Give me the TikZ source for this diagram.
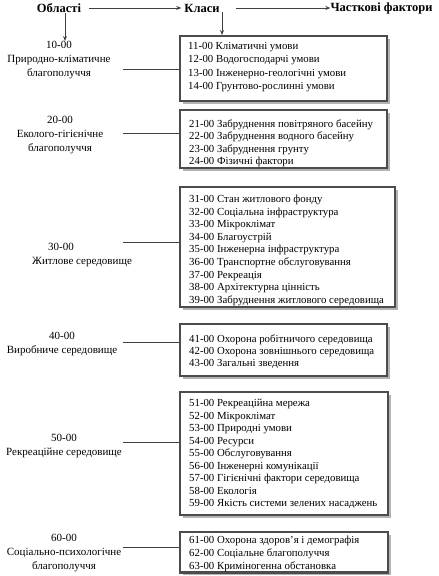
\documentclass[tikz,border=0pt]{standalone}
\usepackage{fontspec}
\setmainfont{Liberation Serif}
\usetikzlibrary{shadows,arrows.meta}
\begin{document}
\begin{tikzpicture}[x=1pt,y=-1pt,
  hdr/.style={font=\fontsize{12.5}{14}\selectfont\bfseries, inner sep=0pt},
  area/.style={font=\fontsize{11}{14}\selectfont, align=center, inner sep=0pt},
  cls/.style={font=\fontsize{10.8}{12}\selectfont, inner sep=0pt, anchor=base west},
  frame/.style={draw=black!70, line width=1.8pt, fill=white, inner sep=0pt,
    drop shadow={shadow xshift=2.5pt, shadow yshift=-2.5pt, fill=black!50, opacity=0.6}},
  conn/.style={draw=black!75, line width=0.7pt},
  arr/.style={conn, -{Stealth[length=5pt,width=4pt]}}
]
\useasboundingbox (0,0) rectangle (439,576);
% header
\node[hdr] (h1) at (59,8) {Області};
\node[hdr] (h2) at (202,8) {Класи};
\node[hdr] (h3) at (381.5,8) {Часткові фактори};
\draw[arr] ([xshift=8pt]h1.east) -- ([xshift=-3pt]h2.west);
\draw[arr] ([xshift=16pt]h2.east) -- (h3.west);
% area labels
\node[area] (a1) at (59,60) {10-00\\Природно-кліматичне\\благополуччя};
\node[area] (a2) at (60,135.5) {20-00\\Еколого-гігієнічне\\благополуччя};
\node[area, align=left, anchor=west] (a3) at (32,255) {\hspace{16pt}30-00\\Житлове середовище};
\node[area] (a4) at (62,344.5) {40-00\\Виробниче середовище};
\node[area] (a5) at (64,446) {50-00\\Рекреаційне середовище};
\node[area] (a6) at (64,553) {60-00\\Соціально-психологічне\\благополуччя};
\draw[arr] ([xshift=6pt]h1.south) -- ([xshift=6pt]h1.south |- a1.north);
% frames
\node[frame, minimum width=207, minimum height=65] (k1) at (283.5,68.5) {};
\node[frame, minimum width=207, minimum height=58] (k2) at (283.5,139) {};
\node[frame, minimum width=215, minimum height=120] (k3) at (287.5,247) {};
\node[frame, minimum width=207, minimum height=52] (k4) at (283.5,350) {};
\node[frame, minimum width=208, minimum height=123] (k5) at (284,453.5) {};
\node[frame, minimum width=208, minimum height=40] (k6) at (284,552) {};
\draw[arr] ([xshift=20pt]h2.south) -- ([xshift=20pt]h2.south |- k1.north);
% connectors
\coordinate (c1) at (123,69);
\coordinate (c2) at (123,133);
\coordinate (c3) at (123,242);
\coordinate (c4) at (123,342);
\coordinate (c5) at (123,442);
\coordinate (c6) at (123,547);
\draw[conn] (c1) -- (c1 -| k1.west);
\draw[conn] (c2) -- (c2 -| k2.west);
\draw[conn] (c3) -- (c3 -| k3.west);
\draw[conn] (c4) -- (c4 -| k4.west);
\draw[conn] (c5) -- (c5 -| k5.west);
\draw[conn] (c6) -- (c6 -| k6.west);
% class lines
\foreach[count=\i] \t in {11-00 Кліматичні умови, 12-00 Водогосподарчі умови, 13-00 Інженерно-геологічні умови, 14-00 Грунтово-рослинні умови}
  \node[cls] (k1-\i) at (188,{49.5+13.3*(\i-1)}) {\t};
\foreach[count=\i] \t in {21-00 Забруднення повітряного басейну, 22-00 Забруднення водного басейну, 23-00 Забруднення грунту, 24-00 Фізичні фактори}
  \node[cls] (k2-\i) at (189,{127.5+12.3*(\i-1)}) {\t};
\foreach[count=\i] \t in {31-00 Стан житлового фонду, 32-00 Соціальна інфраструктура, 33-00 Мікроклімат, 34-00 Благоустрій, 35-00 Інженерна інфраструктура, 36-00 Транспортне обслуговування, 37-00 Рекреація, 38-00 Архітектурна цінність, 39-00 Забруднення житлового середовища}
  \node[cls] (k3-\i) at (189,{202.5+12.6*(\i-1)}) {\t};
\foreach[count=\i] \t in {41-00 Охорона робітничого середовища, 42-00 Охорона зовнішнього середовища, 43-00 Загальні зведення}
  \node[cls] (k4-\i) at (189,{342.5+12*(\i-1)}) {\t};
\foreach[count=\i] \t in {51-00 Рекреаційна мережа, 52-00 Мікроклімат, 53-00 Природні умови, 54-00 Ресурси, 55-00 Обслуговування, 56-00 Інженерні комунікації, 57-00 Гігієнічні фактори середовища, 58-00 Екологія, 59-00 Якість системи зелених насаджень}
  \node[cls] (k5-\i) at (189,{406.5+12.5*(\i-1)}) {\t};
\foreach[count=\i] \t in {61-00 Охорона здоров'я і демографія, 62-00 Соціальне благополуччя, 63-00 Криміногенна обстановка}
  \node[cls] (k6-\i) at (189,{543.5+13*(\i-1)}) {\t};
\draw[draw=black!70, line width=1.8pt] (k6.south west) -- (k6.south east);
\end{tikzpicture}
\end{document}
